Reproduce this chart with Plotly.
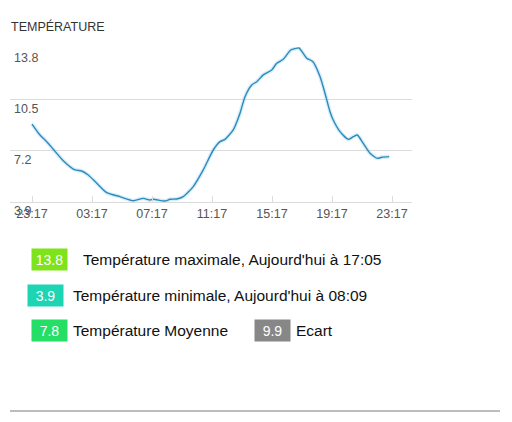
from datetime import datetime, timedelta

import plotly.graph_objects as go

TITLE = "TEMPÉRATURE"

TIMES = [
    "23:17", "23:49", "00:16", "00:42", "01:22", "02:09", "02:36", "03:02",
    "03:36", "04:16", "05:09", "06:02", "06:42", "07:09", "07:22", "08:09",
    "08:29", "08:56", "09:22", "10:02", "10:42", "11:22", "11:49", "12:09",
    "12:42", "13:09", "13:29", "13:56", "14:16", "14:42", "15:16", "15:36",
    "16:02", "16:32", "16:50", "17:05", "17:36", "18:00", "18:29", "18:49",
    "19:09", "19:22", "19:49", "20:22", "20:42", "20:58", "21:22", "21:49",
    "22:18", "22:36", "23:06",
]
TEMPS = [
    8.88, 8.17, 7.74, 7.25, 6.51, 5.91, 5.84, 5.58,
    5.05, 4.44, 4.18, 3.92, 4.07, 3.96, 4.01, 3.90,
    4.01, 4.03, 4.18, 4.83, 5.91, 7.20, 7.74, 7.89,
    8.50, 9.58, 10.65, 11.41, 11.62, 12.06, 12.38, 12.81,
    13.07, 13.67, 13.76, 13.80, 13.14, 12.92, 11.95, 10.87,
    9.68, 9.14, 8.39, 7.89, 8.06, 8.17, 7.63, 6.99,
    6.66, 6.73, 6.77,
]

Y_TICKS = [3.9, 7.2, 10.5, 13.8]
X_TICK_LABELS = ["23:17", "03:17", "07:17", "11:17", "15:17", "19:17", "23:17"]

STATS = [
    ("13.8", "Température maximale, Aujourd'hui à 17:05", "#7fe31b"),
    ("3.9", "Température minimale, Aujourd'hui à 08:09", "#1dd4b3"),
    ("7.8", "Température Moyenne", "#25de66"),
    ("9.9", "Ecart", "#878787"),
]

FONT = "Arial, Liberation Sans, sans-serif"

# build datetimes with day rollover
base = datetime(2024, 3, 10)
xs = []
day = 0
prev = None
for t in TIMES:
    h, m = map(int, t.split(":"))
    cur = h * 60 + m
    if prev is not None and cur < prev:
        day += 1
    prev = cur
    xs.append(base + timedelta(days=day, hours=h, minutes=m))

start = base + timedelta(hours=23, minutes=17)
tick_vals = [start + timedelta(hours=4 * i) for i in range(len(X_TICK_LABELS))]
x_range = [start - timedelta(minutes=88), tick_vals[-1] + timedelta(minutes=80)]

# page body has an 8px margin, so work in window pixels and shift
OFF = 8
W, H = 512 - OFF, 422 - OFF
L, R, T, B = 10 - OFF, 412 - OFF, 47 - OFF, 202 - OFF


def px(x, y):
    return (x - OFF - L) / (R - L), (B - (y - OFF)) / (B - T)


fig = go.Figure()
fig.add_trace(go.Scatter(
    x=xs, y=TEMPS, mode="lines",
    line=dict(color="rgba(130,195,235,0.3)", width=4, shape="spline", smoothing=0.6),
    hoverinfo="skip", showlegend=False,
))
fig.add_trace(go.Scatter(
    x=xs, y=TEMPS, mode="lines",
    line=dict(color="#2b8bbd", width=1.4, shape="spline", smoothing=0.6),
    showlegend=False,
))

fig.update_layout(
    width=W, height=H,
    margin=dict(l=L, r=W - R, t=T, b=H - B),
    paper_bgcolor="white", plot_bgcolor="white",
    font=dict(family=FONT, color="#555"),
    showlegend=False,
)
fig.update_xaxes(
    range=x_range,
    tickvals=tick_vals, ticktext=X_TICK_LABELS,
    showgrid=False, zeroline=False,
    showline=True, linecolor="#dcdcdc", linewidth=1,
    ticks="inside", ticklen=6, tickcolor="#dcdcdc",
    tickfont=dict(size=12.5, color="#555"),
)
fig.update_yaxes(
    range=[3.9 - 0.065, 13.8 + 0.065],
    tickvals=Y_TICKS, showticklabels=False,
    showgrid=True, gridcolor="#dcdcdc", gridwidth=1,
    zeroline=False, showline=False,
)

# y tick labels sit inside the plot, just under their gridline
lab_x, _ = px(12, 0)
for v in Y_TICKS:
    fig.add_annotation(text=f"{v:.1f}", x=lab_x, y=v, xref="paper", yref="y",
                       xanchor="left", yanchor="middle", yshift=-10, showarrow=False,
                       font=dict(size=12.5, color="#555", family=FONT))

# title and frame lines
tx, ty = px(9, 27)
fig.add_annotation(text=TITLE, x=tx, y=ty, xref="paper", yref="paper",
                   xanchor="left", yanchor="middle", showarrow=False,
                   font=dict(size=12.5, color="#333", family=FONT))
x0, y_top = px(10, 4)
x1, y_bot = px(500, 411)
fig.add_shape(type="line", xref="paper", yref="paper", x0=x0, x1=x1, y0=y_top, y1=y_top,
              line=dict(color="#e2e2e2", width=1))
fig.add_shape(type="line", xref="paper", yref="paper", x0=x0, x1=x1, y0=y_bot, y1=y_bot,
              line=dict(color="#bdbdbd", width=2))

# stat boxes
box_pos = [(31, 259, 81), (27, 295, 71), (31, 330, 71), (254, 330, 294)]
for (val, label, color), (bx, by, lx) in zip(STATS, box_pos):
    ax, ay = px(bx, by)
    fig.add_annotation(text=val, x=ax, y=ay, xref="paper", yref="paper",
                       xanchor="left", yanchor="middle", showarrow=False,
                       bgcolor=color, width=33, height=19, align="center",
                       borderpad=1, font=dict(size=14, color="white", family=FONT))
    lx_, ly_ = px(lx, by)
    fig.add_annotation(text=label, x=lx_, y=ly_, xref="paper", yref="paper",
                       xanchor="left", yanchor="middle", showarrow=False,
                       font=dict(size=15.5, color="#111", family=FONT))

fig.write_html("out.html")
